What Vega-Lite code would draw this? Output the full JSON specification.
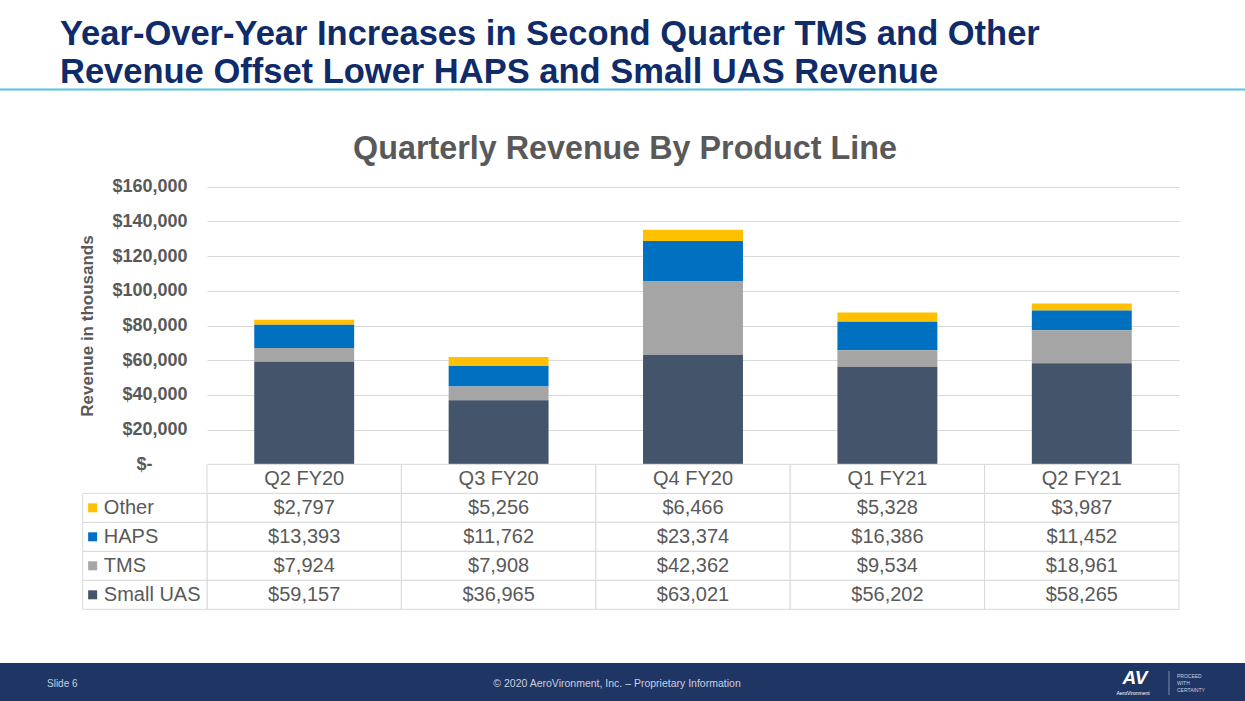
{
  "$schema": "https://vega.github.io/schema/vega-lite/v6.json",
  "width": 1245,
  "height": 701,
  "autosize": "none",
  "padding": 0,
  "background": "#ffffff",
  "config": {"view": {"stroke": null}, "font": "Liberation Sans"},
  "datasets": {
    "revenue": [
      {"quarter": "Q2 FY20", "product": "Other", "value": 2797},
      {"quarter": "Q2 FY20", "product": "HAPS", "value": 13393},
      {"quarter": "Q2 FY20", "product": "TMS", "value": 7924},
      {"quarter": "Q2 FY20", "product": "Small UAS", "value": 59157},
      {"quarter": "Q3 FY20", "product": "Other", "value": 5256},
      {"quarter": "Q3 FY20", "product": "HAPS", "value": 11762},
      {"quarter": "Q3 FY20", "product": "TMS", "value": 7908},
      {"quarter": "Q3 FY20", "product": "Small UAS", "value": 36965},
      {"quarter": "Q4 FY20", "product": "Other", "value": 6466},
      {"quarter": "Q4 FY20", "product": "HAPS", "value": 23374},
      {"quarter": "Q4 FY20", "product": "TMS", "value": 42362},
      {"quarter": "Q4 FY20", "product": "Small UAS", "value": 63021},
      {"quarter": "Q1 FY21", "product": "Other", "value": 5328},
      {"quarter": "Q1 FY21", "product": "HAPS", "value": 16386},
      {"quarter": "Q1 FY21", "product": "TMS", "value": 9534},
      {"quarter": "Q1 FY21", "product": "Small UAS", "value": 56202},
      {"quarter": "Q2 FY21", "product": "Other", "value": 3987},
      {"quarter": "Q2 FY21", "product": "HAPS", "value": 11452},
      {"quarter": "Q2 FY21", "product": "TMS", "value": 18961},
      {"quarter": "Q2 FY21", "product": "Small UAS", "value": 58265}
    ],
    "products": [
      {"product": "Small UAS", "rank": 1},
      {"product": "TMS", "rank": 2},
      {"product": "HAPS", "rank": 3},
      {"product": "Other", "rank": 4}
    ]
  },
  "layer": [
    {
      "data": {"values": [{}]},
      "mark": {"type": "rule", "color": "#55C4DD", "strokeWidth": 2},
      "encoding": {"x": {"value": 0}, "x2": {"value": 1245}, "y": {"value": 89.5}}
    },
    {
      "data": {"values": [{}]},
      "mark": {"type": "rect", "color": "#1F3563"},
      "encoding": {"x": {"value": 0}, "x2": {"value": 1245}, "y": {"value": 663}, "y2": {"value": 701}}
    },
    {
      "data": {"values": [{"t": "Year-Over-Year Increases in Second Quarter TMS and Other\nRevenue Offset Lower HAPS and Small UAS Revenue"}]},
      "mark": {"type": "text", "align": "left", "baseline": "alphabetic", "fontSize": 34.5, "fontWeight": "bold", "color": "#0F2B69", "lineBreak": "\n", "lineHeight": 38, "font": "Liberation Sans"},
      "encoding": {"text": {"field": "t"}, "x": {"value": 60}, "y": {"value": 45}}
    },
    {
      "data": {"values": [{"t": "Quarterly Revenue By Product Line"}]},
      "mark": {"type": "text", "align": "center", "baseline": "alphabetic", "fontSize": 32.3, "fontWeight": "bold", "color": "#595959", "font": "Liberation Sans"},
      "encoding": {"text": {"field": "t"}, "x": {"value": 625}, "y": {"value": 159}}
    },
    {
      "data": {"name": "revenue"},
      "transform": [{"lookup": "product", "from": {"data": {"name": "products"}, "key": "product", "fields": ["rank"]}}],
      "mark": {"type": "bar"},
      "encoding": {
        "x": {"field": "quarter", "type": "nominal", "sort": null, "scale": {"domain": ["Q2 FY20", "Q3 FY20", "Q4 FY20", "Q1 FY21", "Q2 FY21"], "range": [207, 1179], "paddingInner": 0.486, "paddingOuter": 0.243}, "axis": null},
        "y": {
          "field": "value", "type": "quantitative", "stack": "zero",
          "scale": {"domain": [0, 160000], "range": [464.3, 186.7], "nice": false},
          "axis": {
            "orient": "left", "offset": -207,
            "values": [0, 20000, 40000, 60000, 80000, 100000, 120000, 140000, 160000],
            "grid": true, "gridColor": "#D9D9D9", "gridWidth": 1,
            "domain": false, "ticks": false, "tickSize": 0,
            "labelPadding": {"condition": {"test": "datum.value == 0", "value": 55}, "value": 20},
            "labelFont": "Liberation Sans", "labelFontSize": 18, "labelFontWeight": "bold", "labelColor": "#595959",
            "labelOverlap": false, "labelFlush": false,
            "labelExpr": "datum.value == 0 ? '$-' : '$' + format(datum.value, ',')",
            "title": "Revenue in thousands", "titleFont": "Liberation Sans", "titleFontSize": 17, "titleFontWeight": "bold", "titleColor": "#595959", "titlePadding": 15
          }
        },
        "color": {"field": "product", "type": "nominal", "scale": {"domain": ["Other", "HAPS", "TMS", "Small UAS"], "range": ["#FFC000", "#0070C0", "#A5A5A5", "#44546A"]}, "legend": null},
        "order": {"field": "rank", "type": "quantitative", "sort": "ascending"}
      }
    },
    {
      "data": {"name": "revenue"},
      "encoding": {
        "x": {"field": "quarter", "type": "nominal", "sort": null, "scale": {"domain": ["Q2 FY20", "Q3 FY20", "Q4 FY20", "Q1 FY21", "Q2 FY21"], "range": [207, 1179], "paddingInner": 0, "paddingOuter": 0}, "axis": null}
      },
      "layer": [
        {
          "mark": {"type": "rect", "fill": "#ffffff", "stroke": "#D9D9D9", "strokeWidth": 1},
          "encoding": {"y": {"field": "product", "type": "nominal", "sort": null, "scale": {"domain": ["Quarter", "Other", "HAPS", "TMS", "Small UAS"], "range": [464.3, 609.3], "paddingInner": 0, "paddingOuter": 0}, "axis": null}}
        },
        {
          "transform": [{"filter": "datum.product === 'Other'"}],
          "mark": {"type": "rect", "fill": "#ffffff", "stroke": "#D9D9D9", "strokeWidth": 1},
          "encoding": {"y": {"datum": "Quarter", "type": "nominal", "axis": null}}
        },
        {
          "mark": {"type": "text", "fontSize": 20, "color": "#595959", "font": "Liberation Sans", "baseline": "middle"},
          "encoding": {
            "y": {"field": "product", "type": "nominal", "sort": null, "axis": null},
            "text": {"field": "value", "type": "quantitative", "format": "$,.0f"}
          }
        },
        {
          "transform": [{"filter": "datum.product === 'Other'"}],
          "mark": {"type": "text", "fontSize": 20, "color": "#595959", "font": "Liberation Sans", "baseline": "middle"},
          "encoding": {
            "y": {"datum": "Quarter", "type": "nominal", "axis": null},
            "text": {"field": "quarter", "type": "nominal"}
          }
        }
      ]
    },
    {
      "data": {"name": "products"},
      "encoding": {
        "y": {"field": "product", "type": "nominal", "sort": null, "scale": {"domain": ["Quarter", "Other", "HAPS", "TMS", "Small UAS"], "range": [464.3, 609.3], "paddingInner": 0, "paddingOuter": 0}, "axis": null}
      },
      "layer": [
        {
          "mark": {"type": "rect", "fill": "#ffffff", "stroke": "#D9D9D9", "strokeWidth": 1},
          "encoding": {
            "x": {"datum": 0, "type": "quantitative", "scale": {"domain": [0, 1], "range": [82.7, 207]}, "axis": null},
            "x2": {"datum": 1}
          }
        },
        {
          "mark": {"type": "square", "filled": true, "size": 81, "opacity": 1},
          "encoding": {
            "x": {"datum": 0.08, "type": "quantitative", "axis": null},
            "color": {"field": "product", "type": "nominal", "scale": {"domain": ["Other", "HAPS", "TMS", "Small UAS"], "range": ["#FFC000", "#0070C0", "#A5A5A5", "#44546A"]}, "legend": null}
          }
        },
        {
          "mark": {"type": "text", "align": "left", "baseline": "middle", "fontSize": 20, "color": "#595959", "font": "Liberation Sans"},
          "encoding": {
            "x": {"datum": 0.17, "type": "quantitative", "axis": null},
            "text": {"field": "product", "type": "nominal"}
          }
        }
      ]
    },
    {
      "data": {"values": [{"t": "Slide 6"}]},
      "mark": {"type": "text", "align": "left", "baseline": "middle", "fontSize": 10, "color": "#C9D0E0", "font": "Liberation Sans"},
      "encoding": {"text": {"field": "t"}, "x": {"value": 47}, "y": {"value": 684}}
    },
    {
      "data": {"values": [{"t": "© 2020 AeroVironment, Inc. – Proprietary Information"}]},
      "mark": {"type": "text", "align": "center", "baseline": "middle", "fontSize": 10.5, "color": "#C9D0E0", "font": "Liberation Sans"},
      "encoding": {"text": {"field": "t"}, "x": {"value": 617}, "y": {"value": 684}}
    },
    {
      "data": {"values": [{"t": "AV"}]},
      "mark": {"type": "text", "align": "center", "baseline": "alphabetic", "fontSize": 19, "fontWeight": "bold", "fontStyle": "italic", "color": "#ffffff", "font": "Liberation Sans"},
      "encoding": {"text": {"field": "t"}, "x": {"value": 1135}, "y": {"value": 684}}
    },
    {
      "data": {"values": [{"t": "AeroVironment"}]},
      "mark": {"type": "text", "align": "center", "baseline": "middle", "fontSize": 5, "color": "#ffffff", "font": "Liberation Sans"},
      "encoding": {"text": {"field": "t"}, "x": {"value": 1133}, "y": {"value": 693}}
    },
    {
      "data": {"values": [{}]},
      "mark": {"type": "rule", "color": "#7F8DB0", "strokeWidth": 1},
      "encoding": {"x": {"value": 1169}, "y": {"value": 671}, "y2": {"value": 695}}
    },
    {
      "data": {"values": [{"t": "PROCEED\nWITH\nCERTAINTY"}]},
      "mark": {"type": "text", "align": "left", "baseline": "middle", "fontSize": 5, "lineHeight": 7, "lineBreak": "\n", "color": "#C9D0E0", "font": "Liberation Sans"},
      "encoding": {"text": {"field": "t"}, "x": {"value": 1177}, "y": {"value": 676}}
    }
  ],
  "resolve": {"scale": {"x": "independent", "y": "independent", "color": "independent"}}
}
